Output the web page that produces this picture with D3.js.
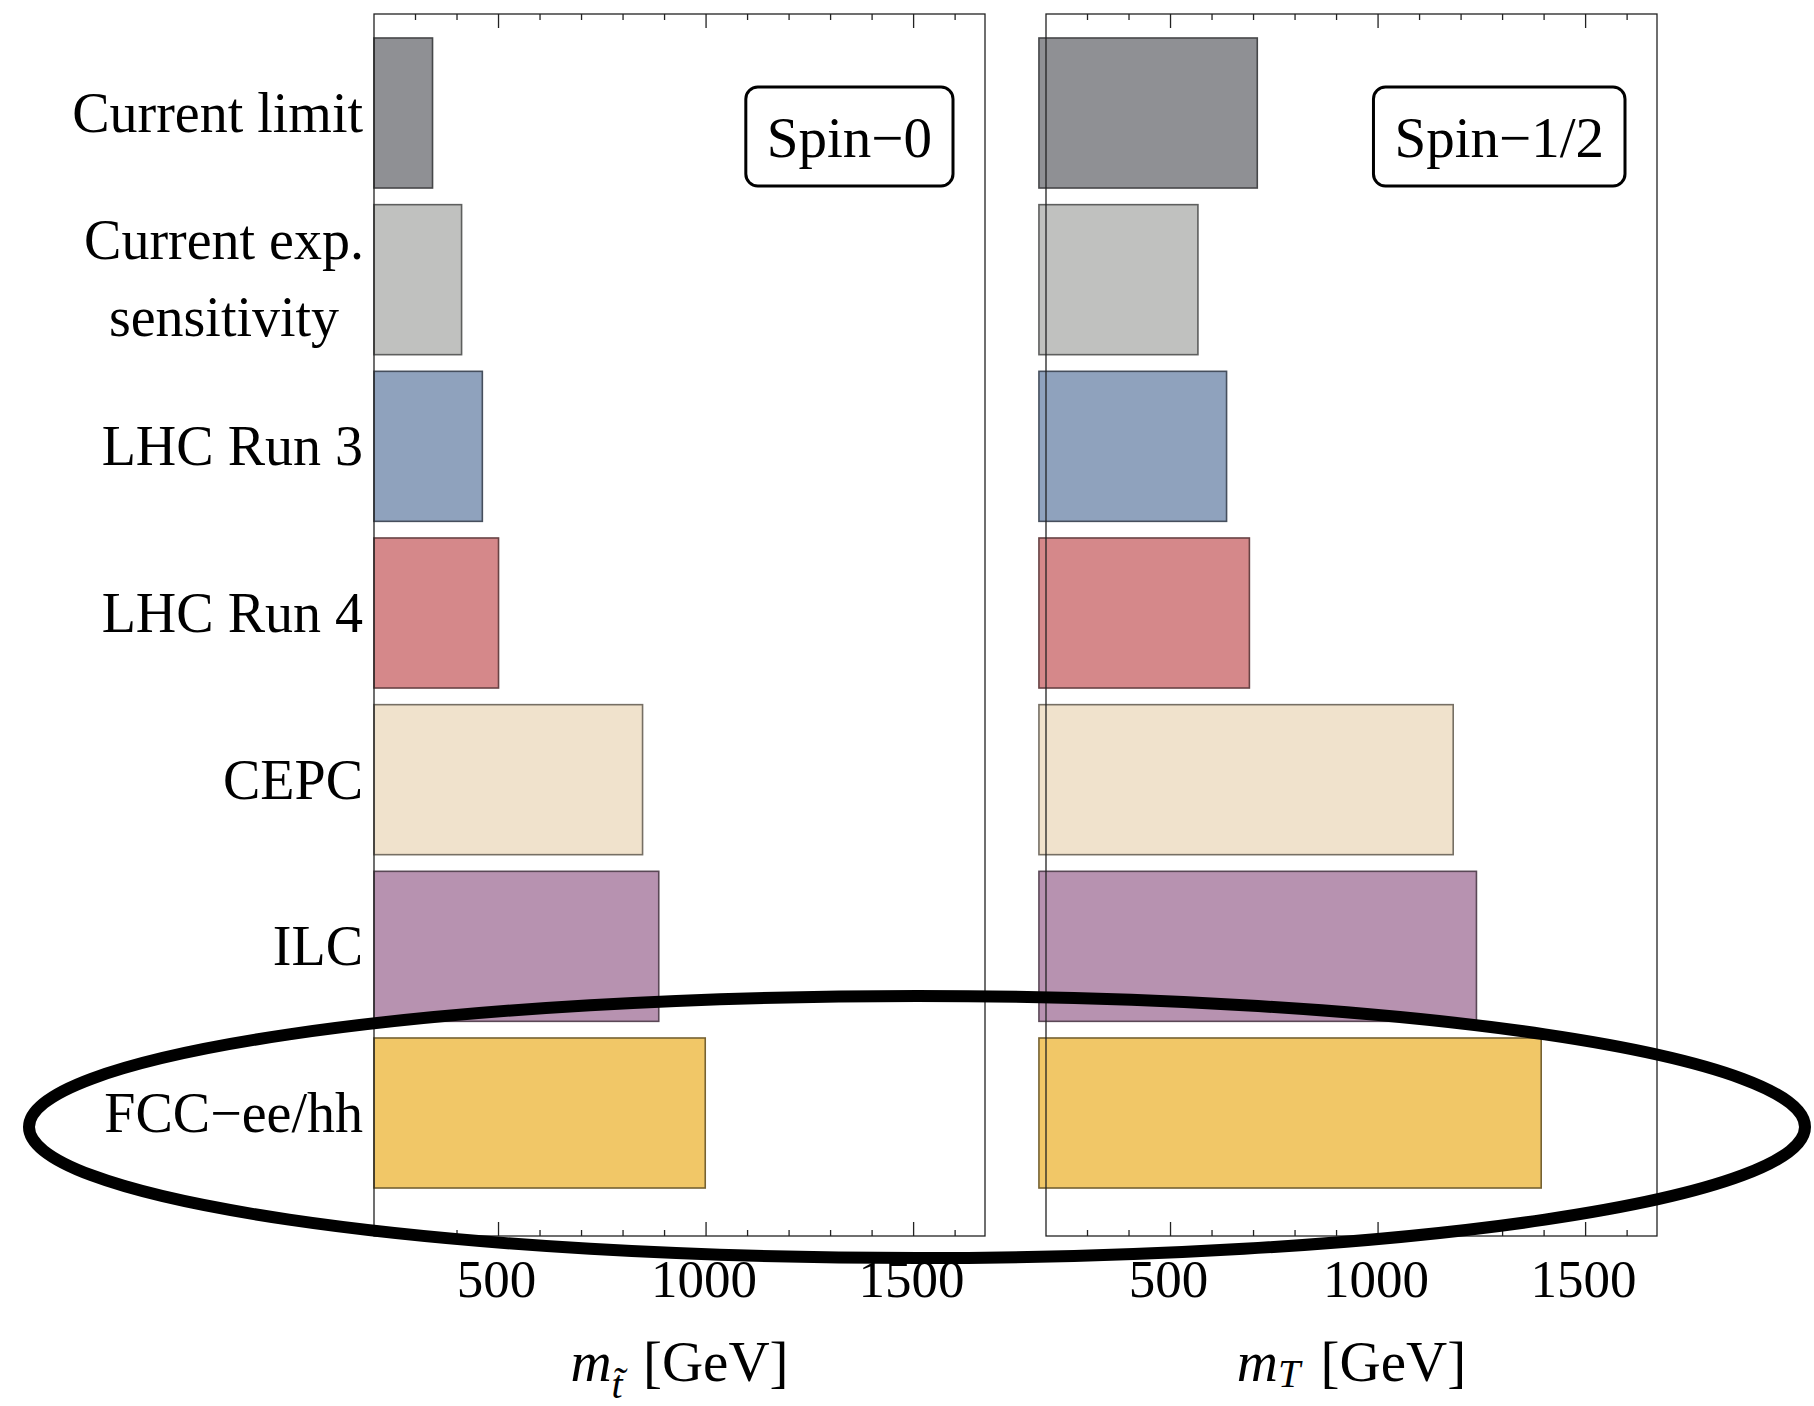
<!DOCTYPE html>
<html>
<head>
<meta charset="utf-8">
<title>Spin-0 / Spin-1/2 reach</title>
<style>
  body { margin: 0; background: #fff; }
  svg text { font-family: "Liberation Serif", "Times New Roman", serif; fill: #000; }
</style>
</head>
<body>
<svg id="chart" width="1814" height="1406"></svg>
<script src="https://d3js.org/d3.v7.min.js"></script>
<script>
// data (masses in GeV)
const categories = ["Current limit", "Current exp.|sensitivity", "LHC Run 3", "LHC Run 4", "CEPC", "ILC", "FCC−ee/hh"];
const colors = ["#8f9094", "#c0c1bf", "#8fa2bd", "#d5888a", "#f0e2cc", "#b792b0", "#f1c767"];
const spin0 = [341, 411, 461, 500, 847, 886, 998];
const spinHalf = [709, 566, 635, 690, 1181, 1237, 1393];
const panelNames = ["Spin−0", "Spin−1/2"];
const barBase = [200, 183];
const xDomain = [200, 1672];
const majorTicks = [500, 1000, 1500];
const minorTicks = [300, 400, 600, 700, 800, 900, 1100, 1200, 1300, 1400, 1600];

const svg = d3.select("#chart");

const frameTop = 14, frameBottom = 1236;
const y = d3.scaleBand()
  .domain(categories)
  .range([38, 1188])
  .paddingInner(0.1)
  .paddingOuter(0);

const panels = [
  { x0: 374, x1: 985, values: spin0, name: panelNames[0], base: barBase[0], sub: "t\u0303", subDy: 17 },
  { x0: 1046, x1: 1657, values: spinHalf, name: panelNames[1], base: barBase[1], sub: "T", subDy: 6 }
];

panels.forEach(p => {
  const x = d3.scaleLinear().domain(xDomain).range([p.x0, p.x1]);
  const g = svg.append("g");

  // bars
  g.selectAll("rect.bar")
    .data(p.values)
    .join("rect")
    .attr("class", "bar")
    .attr("x", x(p.base))
    .attr("y", (d, i) => y(categories[i]))
    .attr("width", d => x(d) - x(p.base))
    .attr("height", y.bandwidth())
    .attr("fill", (d, i) => colors[i])
    .attr("stroke", (d, i) => d3.color(colors[i]).darker(2))
    .attr("stroke-width", 1.6);

  // frame
  g.append("rect")
    .attr("x", p.x0).attr("y", frameTop)
    .attr("width", p.x1 - p.x0).attr("height", frameBottom - frameTop)
    .attr("fill", "none")
    .attr("stroke", "#222")
    .attr("stroke-width", 1.3);

  // ticks, bottom and top, pointing inward
  const tickSets = [{ t: majorTicks, len: 14 }, { t: minorTicks, len: 6 }];
  tickSets.forEach(s => {
    g.selectAll(null).data(s.t).join("line")
      .attr("x1", d => x(d)).attr("x2", d => x(d))
      .attr("y1", frameBottom).attr("y2", frameBottom - s.len)
      .attr("stroke", "#222").attr("stroke-width", 1.3);
    g.selectAll(null).data(s.t).join("line")
      .attr("x1", d => x(d)).attr("x2", d => x(d))
      .attr("y1", frameTop).attr("y2", frameTop + s.len)
      .attr("stroke", "#222").attr("stroke-width", 1.3);
  });

  g.selectAll("text.tick")
    .data(majorTicks)
    .join("text")
    .attr("class", "tick")
    .attr("x", d => x(d) - 2)
    .attr("y", 1297)
    .attr("text-anchor", "middle")
    .style("font-size", "53px")
    .text(d => d);

  // spin label box
  const boxText = g.append("text")
    .attr("y", 157)
    .attr("text-anchor", "middle")
    .style("font-size", "57px")
    .text(p.name);
  const tw = boxText.node().getComputedTextLength();
  const bw = tw + 42;
  const bx = p.x1 - 32 - bw;
  boxText.attr("x", bx + bw / 2);
  g.insert("rect", "text")
    .attr("x", bx).attr("y", 87)
    .attr("width", bw).attr("height", 99)
    .attr("rx", 12).attr("ry", 12)
    .attr("fill", "#fff")
    .attr("stroke", "#000")
    .attr("stroke-width", 3);

  // axis title
  const title = g.append("text")
    .attr("x", (p.x0 + p.x1) / 2)
    .attr("y", 1381)
    .attr("text-anchor", "middle")
    .style("font-size", "57px");
  title.append("tspan").style("font-style", "italic").text("m");
  title.append("tspan").style("font-style", "italic").style("font-size", "40px")
    .attr("dy", p.subDy).text(p.sub);
  title.append("tspan").attr("dy", -p.subDy).attr("dx", 6).text(" [GeV]");
});

// category labels
const labels = svg.append("g");
categories.forEach(c => {
  const lines = c.split("|");
  const cy = y(c) + y.bandwidth() / 2;
  const t = labels.append("text")
    .attr("text-anchor", "middle")
    .style("font-size", "56px");
  if (lines.length === 1) {
    t.attr("text-anchor", "end").attr("x", 363).attr("y", cy + 19).text(c);
  } else {
    t.append("tspan").attr("x", 224).attr("y", cy - 21).text(lines[0]);
    t.append("tspan").attr("x", 224).attr("y", cy + 56).text(lines[1]);
  }
});

// highlight ellipse round the FCC row
svg.append("ellipse")
  .attr("cx", 917)
  .attr("cy", y(categories[6]) + y.bandwidth() / 2 + 14)
  .attr("rx", 888)
  .attr("ry", 131)
  .attr("fill", "none")
  .attr("stroke", "#000")
  .attr("stroke-width", 12);
</script>
</body>
</html>
